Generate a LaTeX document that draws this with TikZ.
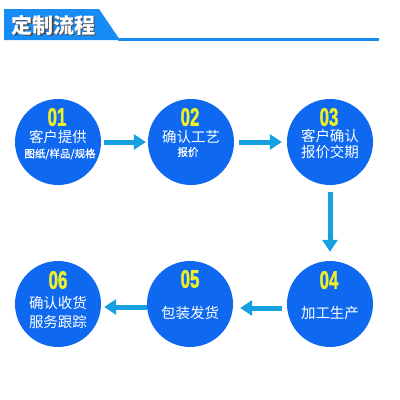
\documentclass[tikz,border=0pt]{standalone}
\usepackage{fontspec}
\newfontfamily\cjk{Noto Sans CJK SC}
\newfontfamily\cjksemi[FakeBold=0.6]{Noto Sans CJK SC}
\newfontfamily\numfont[FakeStretch=0.66,FakeBold=1.3]{Liberation Sans Bold}
\usetikzlibrary{arrows.meta}
\definecolor{circblue}{RGB}{14,104,240}
\definecolor{arrblue}{RGB}{22,160,226}
\definecolor{headblue}{RGB}{24,140,245}
\definecolor{numyellow}{RGB}{240,240,40}
\tikzset{
  stepcirc/.style={circle,fill=circblue,minimum size=86pt,inner sep=0pt},
  numtxt/.style={text=numyellow,font=\numfont\fontsize{25.5}{26}\selectfont,inner sep=0pt},
  bigtxt/.style={text=white,font=\cjk\fontsize{14.5}{16}\selectfont,inner sep=0pt},
  smalltxt/.style={text=white,font=\cjksemi\fontsize{10.5}{12}\selectfont,inner sep=0pt},
  flow/.style={draw=arrblue,line width=5pt,-{Triangle[length=12pt,width=15pt]}}
}
\begin{document}
\begin{tikzpicture}[x=1pt,y=-1pt]
\useasboundingbox (0,0) rectangle (400,400);
% header
\fill[headblue] (4,9) -- (99,9) -- (120,40) -- (4,40) -- cycle;
\fill[headblue] (118,37.5) rectangle (379,40.5);
\node[text=black!70,font=\cjk\bfseries\fontsize{21}{22}\selectfont,inner sep=0pt] (titleshadow) at (55,26) {定制流程};
\node[text=white,font=\cjk\bfseries\fontsize{21}{22}\selectfont,inner sep=0pt] (title) at (54,25) {定制流程};
% circles
\node[stepcirc] (c1) at (58,142) {};
\node[stepcirc] (c2) at (191,142) {};
\node[stepcirc] (c3) at (330,142) {};
\node[stepcirc] (c4) at (330,304) {};
\node[stepcirc] (c5) at (190,304) {};
\node[stepcirc] (c6) at (58,304) {};
% texts
\node[numtxt] (n1) at (57,117) {01};
\node[bigtxt] (t1a) at (58,137) {客户提供};
\node[smalltxt] (t1b) at (60,154) {图纸/样品/规格};
\node[numtxt] (n2) at (190,117) {02};
\node[bigtxt] (t2a) at (191,137) {确认工艺};
\node[smalltxt] (t2b) at (188,152) {报价};
\node[numtxt] (n3) at (329,117) {03};
\node[bigtxt] (t3a) at (330,136) {客户确认};
\node[bigtxt] (t3b) at (330,152) {报价交期};
\node[numtxt] (n4) at (329,280) {04};
\node[bigtxt] (t4a) at (330,313) {加工生产};
\node[numtxt] (n5) at (190,279) {05};
\node[bigtxt] (t5a) at (190,313) {包装发货};
\node[numtxt] (n6) at (58,280) {06};
\node[bigtxt] (t6a) at (58,303) {确认收货};
\node[bigtxt] (t6b) at (58,322) {服务跟踪};
% arrows
\draw[flow,shorten <=3pt,shorten >=2pt] (c1.east) -- (c2.west);
\draw[flow,shorten <=5pt,shorten >=5pt] (c2.east) -- (c3.west);
\draw[flow,shorten <=7pt,shorten >=9pt] (c3.south) -- (c4.north);
\draw[flow,shorten <=5pt,shorten >=7pt] ([yshift=-4pt]c4.west) -- ([yshift=-4pt]c5.east);
\draw[flow,shorten <=0pt,shorten >=3pt] ([yshift=-3pt]c5.west) -- ([yshift=-3pt]c6.east);
\end{tikzpicture}
\end{document}
